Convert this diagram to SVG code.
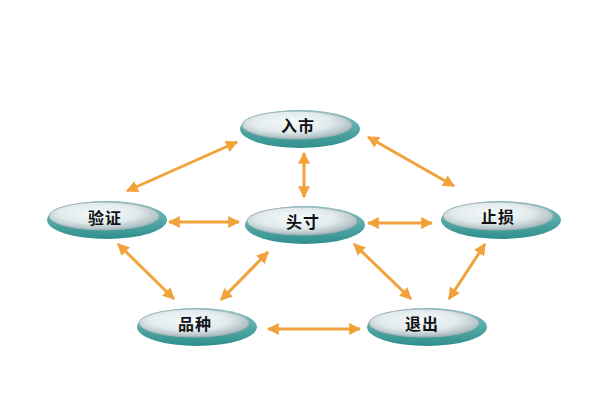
<svg xmlns="http://www.w3.org/2000/svg" width="608" height="413" viewBox="0 0 608 413">
<style>
.base{fill:url(#teal);}
.top{fill:url(#disc);stroke:#9fb2b6;stroke-width:1;}
.lbl{font-family:"Noto Sans CJK SC","Noto Sans",sans-serif;font-weight:bold;font-size:16px;fill:#111;text-anchor:middle;dominant-baseline:central;letter-spacing:1px;}
.arr{stroke:#f2a23a;stroke-width:3;fill:none;marker-start:url(#ah);marker-end:url(#ah);}
</style>
<defs>
<linearGradient id="teal" x1="0" y1="0" x2="0" y2="1">
<stop offset="0" stop-color="#7cc4c2"/>
<stop offset="1" stop-color="#2f8f8d"/>
</linearGradient>
<radialGradient id="disc" cx="0.45" cy="0.4" r="0.6">
<stop offset="0" stop-color="#f6fafb"/>
<stop offset="0.6" stop-color="#e1eaec"/>
<stop offset="1" stop-color="#a9b9be"/>
</radialGradient>
<marker id="ah" viewBox="0 0 10 10" refX="9" refY="5" markerWidth="4" markerHeight="4" orient="auto-start-reverse" markerUnits="strokeWidth">
<path d="M0,0 L10,5 L0,10 Z" fill="#f2a23a"/>
</marker>
</defs>
<rect width="608" height="413" fill="#ffffff"/>
<g id="connectors">
<line class="arr" x1="237" y1="142" x2="127" y2="191"/>
<line class="arr" x1="304" y1="153" x2="304" y2="197"/>
<line class="arr" x1="368" y1="137" x2="454" y2="186"/>
<line class="arr" x1="169" y1="222" x2="239" y2="222"/>
<line class="arr" x1="368" y1="223" x2="432" y2="223"/>
<line class="arr" x1="118" y1="244" x2="174" y2="299"/>
<line class="arr" x1="268" y1="252" x2="221" y2="300"/>
<line class="arr" x1="354" y1="244" x2="411" y2="299"/>
<line class="arr" x1="485" y1="244" x2="449" y2="299"/>
<line class="arr" x1="268" y1="329" x2="360" y2="329"/>
</g>
<g id="node-rushi">
<ellipse class="base" cx="300" cy="129" rx="60" ry="19"/>
<ellipse class="top" cx="297" cy="125" rx="55" ry="14"/>
<text class="lbl" x="298" y="125">入市</text>
</g>
<g id="node-yanzheng">
<ellipse class="base" cx="107" cy="220" rx="60" ry="19"/>
<ellipse class="top" cx="104" cy="216" rx="55" ry="14"/>
<text class="lbl" x="105" y="217">验证</text>
</g>
<g id="node-toucun">
<ellipse class="base" cx="305" cy="225" rx="60" ry="19"/>
<ellipse class="top" cx="302" cy="221" rx="55" ry="14"/>
<text class="lbl" x="303" y="221">头寸</text>
</g>
<g id="node-zhisun">
<ellipse class="base" cx="501" cy="220" rx="60" ry="19"/>
<ellipse class="top" cx="498" cy="216" rx="55" ry="14"/>
<text class="lbl" x="498" y="216">止损</text>
</g>
<g id="node-pinzhong">
<ellipse class="base" cx="197" cy="327" rx="60" ry="19"/>
<ellipse class="top" cx="194" cy="323" rx="55" ry="14"/>
<text class="lbl" x="195" y="323">品种</text>
</g>
<g id="node-tuichu">
<ellipse class="base" cx="427" cy="327" rx="60" ry="19"/>
<ellipse class="top" cx="424" cy="323" rx="55" ry="14"/>
<text class="lbl" x="422" y="323">退出</text>
</g>
</svg>
